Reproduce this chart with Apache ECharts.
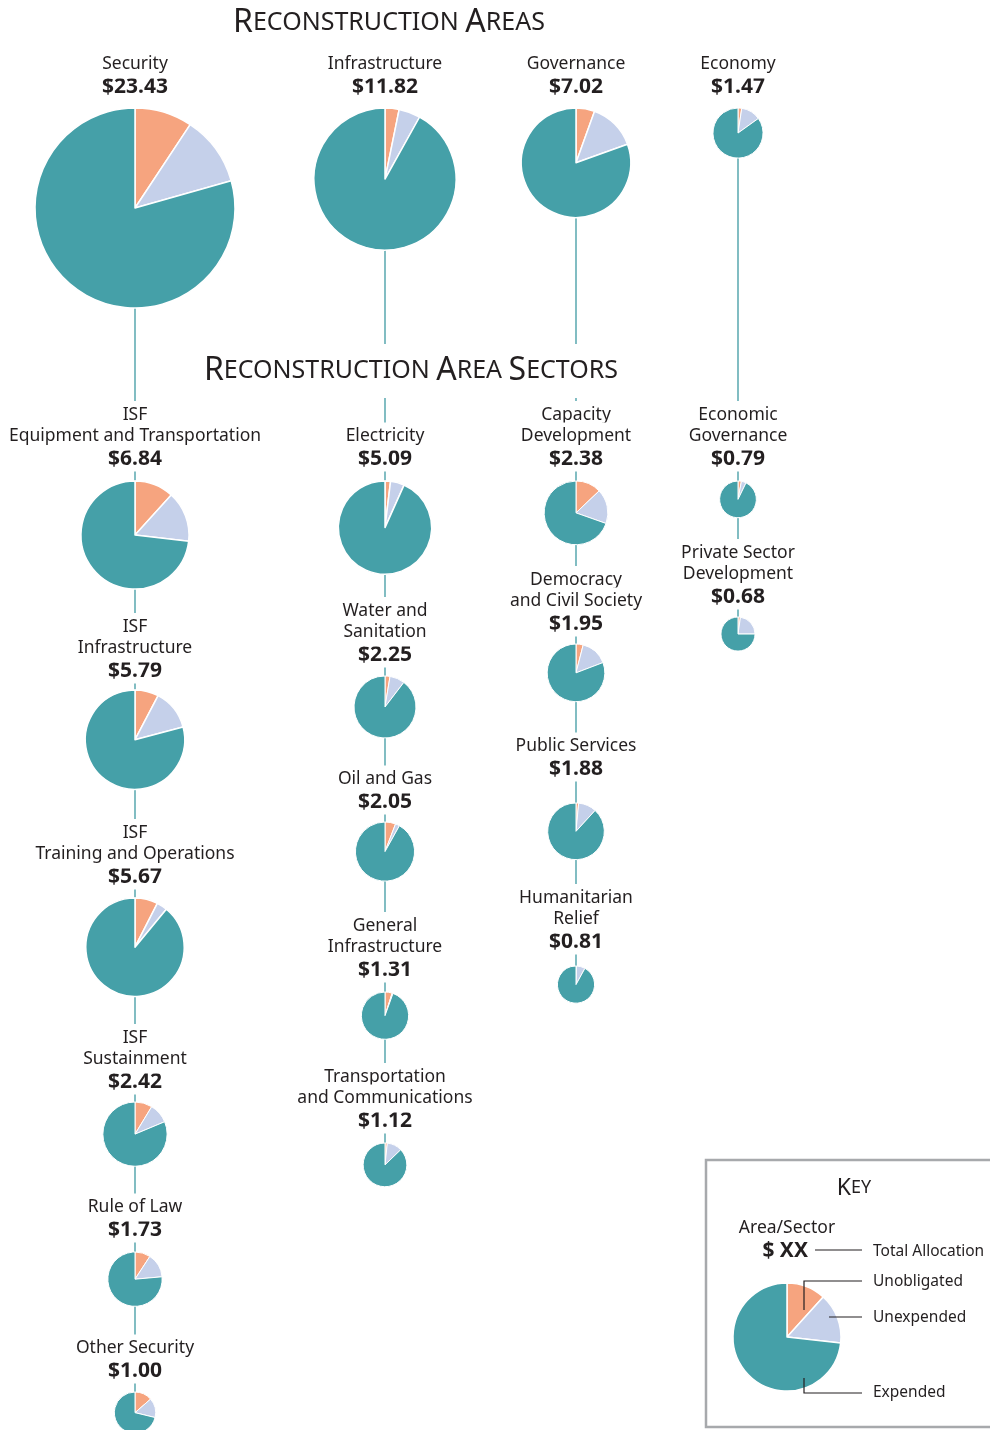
<!DOCTYPE html>
<html><head><meta charset="utf-8">
<script src="https://cdn.jsdelivr.net/npm/echarts@6/dist/echarts.min.js"></script>
<style>html,body{margin:0;padding:0;background:#fff}#c{width:990px;height:1430px}</style>
</head><body><div id="c"></div>
<script>
// ---------------- DATA ----------------
const areaNames = ['Security', 'Infrastructure', 'Governance', 'Economy'];
const areaTotals = [23.43, 11.82, 7.02, 1.47];
const areaUnobligated = [9.3, 3.2, 5.5, 2.4];   // % of total
const areaUnexpended = [11.3, 4.9, 14.0, 12.7]; // % of total
const areaExpended = [79.4, 91.9, 80.5, 84.9];  // % of total

const sectorNames = [
  'ISF\nEquipment and Transportation', 'ISF\nInfrastructure', 'ISF\nTraining and Operations',
  'ISF\nSustainment', 'Rule of Law', 'Other Security',
  'Electricity', 'Water and\nSanitation', 'Oil and Gas', 'General\nInfrastructure',
  'Transportation\nand Communications',
  'Capacity\nDevelopment', 'Democracy\nand Civil Society', 'Public Services', 'Humanitarian\nRelief',
  'Economic\nGovernance', 'Private Sector\nDevelopment'
];
const sectorArea = [0, 0, 0, 0, 0, 0, 1, 1, 1, 1, 1, 2, 2, 2, 2, 3, 3];
const sectorTotals = [6.84, 5.79, 5.67, 2.42, 1.73, 1.00, 5.09, 2.25, 2.05, 1.31, 1.12, 2.38, 1.95, 1.88, 0.81, 0.79, 0.68];
const sectorUnobligated = [11.7, 7.7, 7.5, 8.7, 9.2, 13.6, 1.9, 2.6, 5.8, 4.9, 1.7, 12.9, 4.0, 1.5, 0.3, 3.0, 2.3];
const sectorUnexpended = [15.1, 13.2, 3.5, 10.0, 14.4, 15.2, 4.8, 7.8, 2.3, 0.6, 11.1, 17.5, 15.2, 10.3, 7.7, 4.2, 22.7];
const sectorExpended = [73.2, 79.1, 89.0, 81.3, 76.4, 71.2, 93.3, 89.6, 91.9, 94.5, 87.2, 69.6, 80.8, 88.2, 92.0, 92.8, 75.0];

const keyExample = [11.7, 15.1, 73.2];
const sliceNames = ['Unobligated', 'Unexpended', 'Expended'];

// ---------------- LAYOUT ----------------
const colX = [135, 385, 576, 738];
const areaTop = 108;
const areaValueY = 86;
const sectorTop = [481, 690, 898, 1102, 1252, 1392, 481, 676, 822, 992, 1143, 481, 644, 803, 966, 481, 617];
const sectorValueY = [458, 670, 876, 1081, 1229, 1370, 458, 654, 801, 969, 1120, 458, 623, 768, 941, 458, 596];
const R_PER_SQRT = 20.66; // pie radius (px) per sqrt($B)
const COLORS = ['#F6A47F', '#C5D0EA', '#45A0A8'];
const LINE = '#3E9AA2';
const TXT = '#231F20';
const FONT = '"Noto Sans", sans-serif';

function pieSeries(cx, cy, r, vals, z) {
  return {
    type: 'pie', center: [cx, cy], radius: [0, r], startAngle: 90, clockwise: true,
    silent: true, animation: false, z: z || 3,
    label: { show: false }, labelLine: { show: false },
    itemStyle: { borderColor: '#fff', borderWidth: r > 40 ? 1.5 : 1 },
    data: vals.map((v, i) => ({ name: sliceNames[i], value: v, itemStyle: { color: COLORS[i] } }))
  };
}

const series = [];
const graphics = [];

function labelBlock(x, valueY, name, total) {
  const lines = name.split('\n');
  graphics.push({
    type: 'text', z: 20, style: {
      x: x, y: valueY + 1, text: '$' + total.toFixed(2), align: 'center', verticalAlign: 'middle',
      font: 'bold 21px ' + FONT, fill: TXT, backgroundColor: '#fff', padding: [2, 6]
    }
  });
  for (let i = 0; i < lines.length; i++) {
    const y = valueY - 22.5 - (lines.length - 1 - i) * 21.5;
    graphics.push({
      type: 'text', z: 20, style: {
        x: x, y: y + 1, text: lines[i], align: 'center', verticalAlign: 'middle',
        font: '17.5px ' + FONT, fill: TXT, backgroundColor: '#fff', padding: [5, 6]
      }
    });
  }
}

// Area pies
const areaCenters = [];
areaNames.forEach((n, i) => {
  const r = R_PER_SQRT * Math.sqrt(areaTotals[i]);
  const cy = areaTop + r;
  areaCenters.push(cy);
  series.push(pieSeries(colX[i], cy, r, [areaUnobligated[i], areaUnexpended[i], areaExpended[i]]));
  labelBlock(colX[i], areaValueY, n, areaTotals[i]);
});

// Sector pies
const colEnd = [0, 0, 0, 0];
sectorNames.forEach((n, i) => {
  const a = sectorArea[i];
  const r = R_PER_SQRT * Math.sqrt(sectorTotals[i]);
  const cy = sectorTop[i] + r;
  colEnd[a] = Math.max(colEnd[a], sectorTop[i] + 4);
  series.push(pieSeries(colX[a], cy, r, [sectorUnobligated[i], sectorUnexpended[i], sectorExpended[i]]));
  labelBlock(colX[a], sectorValueY[i], n, sectorTotals[i]);
});

// connector lines (behind everything)
colX.forEach((x, a) => {
  graphics.push({
    type: 'line', z: 1, silent: true,
    shape: { x1: x, y1: areaCenters[a], x2: x, y2: colEnd[a] },
    style: { stroke: LINE, lineWidth: 1.3 }
  });
});

// Section titles (small caps)
function smallCaps(words) {
  return words.map(w => '{b|' + w[0] + '}{s|' + w.slice(1) + '}').join('{s| }');
}
const titleRich = { b: { font: '32px ' + FONT, fill: TXT }, s: { font: '25px ' + FONT, fill: TXT } };
graphics.push({
  type: 'text', z: 20, style: {
    x: 389, y: 23, text: smallCaps(['RECONSTRUCTION', 'AREAS']), align: 'center', verticalAlign: 'middle',
    fill: TXT, rich: titleRich
  }
});
graphics.push({
  type: 'text', z: 20, style: {
    x: 411, y: 371, text: smallCaps(['RECONSTRUCTION', 'AREA', 'SECTORS']), align: 'center', verticalAlign: 'middle',
    fill: TXT, backgroundColor: '#fff', padding: [11, 8], rich: titleRich
  }
});

// ---------------- KEY ----------------
graphics.push({ type: 'rect', z: 1, shape: { x: 706, y: 1160, width: 300, height: 267 },
  style: { fill: '#fff', stroke: '#A7A9AC', lineWidth: 2.5 } });
graphics.push({ type: 'text', z: 20, style: { x: 854, y: 1188, text: '{b|K}{s|EY}', align: 'center', verticalAlign: 'middle',
  rich: { b: { font: '23px ' + FONT, fill: TXT }, s: { font: '18px ' + FONT, fill: TXT } } } });
graphics.push({ type: 'text', z: 20, style: { x: 787, y: 1228, text: 'Area/Sector', align: 'center', verticalAlign: 'middle', font: '17.5px ' + FONT, fill: TXT } });
graphics.push({ type: 'text', z: 20, style: { x: 808, y: 1251, text: '$ XX', align: 'right', verticalAlign: 'middle', font: 'bold 21px ' + FONT, fill: TXT } });
const keyCx = 787, keyCy = 1337, keyR = 54;
series.push(pieSeries(keyCx, keyCy, keyR, keyExample, 5));
const keyLines = [
  [[815, 1250], [862, 1250]],
  [[804, 1310], [804, 1281], [862, 1281]],
  [[829, 1317], [862, 1317]],
  [[804, 1378], [804, 1393], [862, 1393]]
];
keyLines.forEach(pts => graphics.push({ type: 'polyline', z: 30, shape: { points: pts }, style: { stroke: TXT, lineWidth: 1.2, fill: null } }));
const keyTexts = [['Total Allocation', 1252], ['Unobligated', 1282], ['Unexpended', 1318], ['Expended', 1393]];
keyTexts.forEach(t => graphics.push({ type: 'text', z: 20, style: { x: 873, y: t[1], text: t[0], align: 'left', verticalAlign: 'middle', font: '15.5px ' + FONT, fill: TXT } }));

const chart = echarts.init(document.getElementById('c'), null, { renderer: 'canvas' });
chart.setOption({ animation: false, backgroundColor: '#fff', series: series, graphic: { elements: graphics } });
</script></body></html>
